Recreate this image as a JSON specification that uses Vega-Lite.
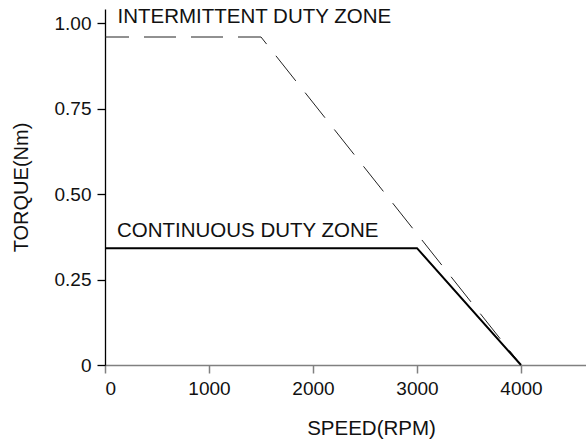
{
  "$schema": "https://vega.github.io/schema/vega-lite/v6.json",
  "width": 481,
  "height": 356,
  "autosize": "none",
  "padding": {"left": 105, "top": 9, "right": 0, "bottom": 80},
  "background": "white",
  "config": {
    "view": {"stroke": null},
    "font": "Liberation Sans",
    "axis": {"grid": false, "labelFont": "Liberation Sans", "titleFont": "Liberation Sans", "labelColor": "#111", "titleColor": "#111", "titleFontWeight": "normal"}
  },
  "datasets": {
    "curves": [
      {"zone": "intermittent", "speed": 0, "torque": 0.96},
      {"zone": "intermittent", "speed": 1500, "torque": 0.96},
      {"zone": "intermittent", "speed": 4000, "torque": 0},
      {"zone": "continuous", "speed": 0, "torque": 0.342},
      {"zone": "continuous", "speed": 3000, "torque": 0.342},
      {"zone": "continuous", "speed": 4000, "torque": 0}
    ],
    "labels": [
      {"label": "INTERMITTENT DUTY ZONE", "speed": 120, "torque": 1.0},
      {"label": "CONTINUOUS DUTY ZONE", "speed": 115, "torque": 0.375}
    ]
  },
  "layer": [
    {
      "data": {"name": "curves"},
      "transform": [{"filter": "datum.zone == 'intermittent'"}],
      "mark": {"type": "line", "color": "#222", "strokeWidth": 1, "strokeDash": [32, 15], "strokeDashOffset": 8},
      "encoding": {
        "x": {"field": "speed", "type": "quantitative", "scale": {"domain": [0, 4625], "nice": false, "zero": false},
          "axis": {"values": [0, 1000, 2000, 3000, 4000], "format": "d", "title": "SPEED(RPM)", "labelFontSize": 19, "titleFontSize": 20.5,
            "domainColor": "#808080", "domainWidth": 1.5, "tickColor": "#808080", "tickWidth": 1.5, "tickSize": 8, "labelPadding": 6, "titlePadding": 20, "titleX": 266}},
        "y": {"field": "torque", "type": "quantitative", "scale": {"domain": [0, 1.042], "nice": false},
          "axis": {"values": [0, 0.25, 0.5, 0.75, 1], "labelExpr": "datum.value == 0 ? '0' : format(datum.value, '.2f')", "title": "TORQUE(Nm)", "labelFontSize": 19, "titleFontSize": 20,
            "domainColor": "#000", "domainWidth": 1.3, "tickColor": "#000", "tickWidth": 1.3, "tickSize": 8, "labelPadding": 6, "titlePadding": 23}},
        "order": {"field": "speed", "type": "quantitative"}
      }
    },
    {
      "data": {"name": "curves"},
      "transform": [{"filter": "datum.zone == 'continuous'"}],
      "mark": {"type": "line", "color": "#000", "strokeWidth": 2},
      "encoding": {
        "x": {"field": "speed", "type": "quantitative"},
        "y": {"field": "torque", "type": "quantitative"},
        "order": {"field": "speed", "type": "quantitative"}
      }
    },
    {
      "data": {"name": "labels"},
      "mark": {"type": "text", "align": "left", "baseline": "alphabetic", "fontSize": 20.5, "color": "#111", "font": "Liberation Sans"},
      "encoding": {
        "x": {"field": "speed", "type": "quantitative"},
        "y": {"field": "torque", "type": "quantitative"},
        "text": {"field": "label"}
      }
    }
  ]
}
